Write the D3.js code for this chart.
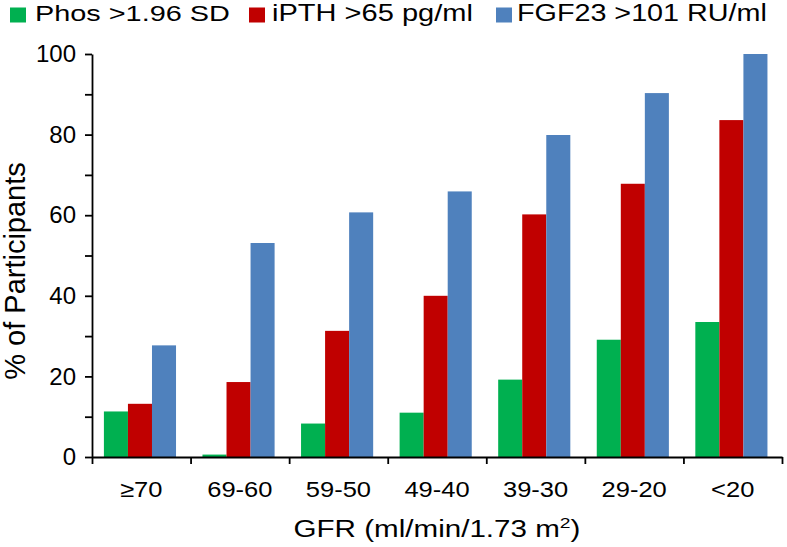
<!DOCTYPE html>
<html>
<head>
<meta charset="utf-8">
<script src="https://cdn.jsdelivr.net/npm/d3@7"></script>
<style>
  html, body { margin: 0; padding: 0; background: #fff; }
  svg { display: block; font-family: "Liberation Sans", Arial, sans-serif; }
</style>
</head>
<body>
<svg id="chart" width="787" height="547"></svg>
<script>
// ---- data ----
const categories = ["≥70", "69-60", "59-50", "49-40", "39-30", "29-20", "<20"];
const seriesNames = ["Phos >1.96 SD", "iPTH >65 pg/ml", "FGF23 >101 RU/ml"];
const seriesColors = ["#00B050", "#C00000", "#4F81BD"];
const phosValues  = [11.3, 0.6, 8.3, 11.0, 19.2, 29.1, 33.5];
const ipthValues  = [13.2, 18.6, 31.3, 40.0, 60.2, 67.8, 83.6];
const fgf23Values = [27.7, 53.1, 60.7, 65.9, 79.9, 90.3, 100];
const yTickValues = [0, 10, 20, 30, 40, 50, 60, 70, 80, 90, 100];
const yAxisTitle = "% of Participants";

const seriesValues = [phosValues, ipthValues, fgf23Values];

(function () {
const svg = d3.select("#chart");
const mLeft = 92, mRight = 782, mTop = 54, mBottom = 457;

const x0 = d3.scaleBand().domain(categories).range([mLeft, mRight]).paddingInner(0).paddingOuter(0);
const x1 = d3.scaleBand().domain(seriesNames).range([0, x0.bandwidth()]).paddingInner(0).paddingOuter(0.55).align(0.45);
const y = d3.scaleLinear().domain([0, 100]).range([mBottom, mTop]);

// bars
const rows = categories.map((c, i) => ({ cat: c, vals: seriesNames.map((s, j) => ({ s, j, v: seriesValues[j][i] })) }));
const groups = svg.append("g").selectAll("g").data(rows).join("g")
  .attr("transform", d => `translate(${x0(d.cat)},0)`);
groups.selectAll("rect").data(d => d.vals).join("rect")
  .attr("x", d => x1(d.s))
  .attr("width", x1.bandwidth())
  .attr("y", d => y(d.v))
  .attr("height", d => y(0) - y(d.v))
  .attr("fill", d => seriesColors[d.j]);

// y axis
const yAxis = d3.axisLeft(y).tickValues(yTickValues)
  .tickFormat(d => d % 20 === 0 ? d : "")
  .tickSize(7).tickSizeOuter(0).tickPadding(9);
const gy = svg.append("g").attr("transform", `translate(${mLeft},0)`).call(yAxis);
gy.selectAll("text").attr("font-size", 24).attr("fill", "#000").attr("font-family", "Liberation Sans, Arial, sans-serif");
gy.selectAll("line, path").attr("stroke", "#000").attr("stroke-width", 1.8);

// x axis: tick marks at category boundaries
const xi = d3.scaleLinear().domain([0, categories.length]).range([mLeft, mRight]);
const xTicks = d3.axisBottom(xi).tickValues(d3.range(categories.length + 1)).tickFormat("").tickSize(7).tickSizeOuter(0);
const gx = svg.append("g").attr("transform", `translate(0,${mBottom})`).call(xTicks);
gx.selectAll("line, path").attr("stroke", "#000").attr("stroke-width", 1.8);

// x labels
const xLab = d3.axisBottom(x0).tickSize(0).tickPadding(0);
const gxl = svg.append("g").attr("transform", `translate(0,${mBottom})`).call(xLab);
gxl.select(".domain").remove();
gxl.selectAll("text").attr("font-size", 22).attr("fill", "#000")
  .attr("font-family", "Liberation Sans, Arial, sans-serif")
  .attr("dy", null).attr("y", 40)
  .attr("transform", "scale(1.16,1)");

function fitWidth(textSel, targetWidth, anchorX) {
  const w = textSel.node().getComputedTextLength();
  const s = targetWidth / w;
  textSel.attr("transform", `translate(${anchorX},0) scale(${s},1) translate(${-anchorX},0)`);
}

// x title
const xt = svg.append("text").attr("x", 437).attr("y", 537).attr("text-anchor", "middle")
  .attr("font-size", 23).attr("fill", "#000");
xt.append("tspan").text("GFR (ml/min/1.73 m");
xt.append("tspan").text("2").attr("font-size", 15).attr("dy", -9);
xt.append("tspan").text(")").attr("dy", 9);
fitWidth(xt, 287, 437);

// y title
svg.append("text").attr("transform", "translate(25,271) rotate(-90)")
  .attr("text-anchor", "middle").attr("font-size", 29).attr("fill", "#000")
  .text(yAxisTitle);

// legend
const legendSquareX = [10, 249, 496];
const legendTextX = [35, 272, 517];
const legendTextW = [195, 201, 250];
seriesNames.forEach((name, i) => {
  svg.append("rect").attr("x", legendSquareX[i]).attr("y", 7.5).attr("width", 16).attr("height", 15)
    .attr("fill", seriesColors[i]);
  const t = svg.append("text").attr("x", legendTextX[i]).attr("y", 21).attr("font-size", 23)
    .attr("fill", "#000").text(name);
  fitWidth(t, legendTextW[i], legendTextX[i]);
});
})();
</script>
</body>
</html>
